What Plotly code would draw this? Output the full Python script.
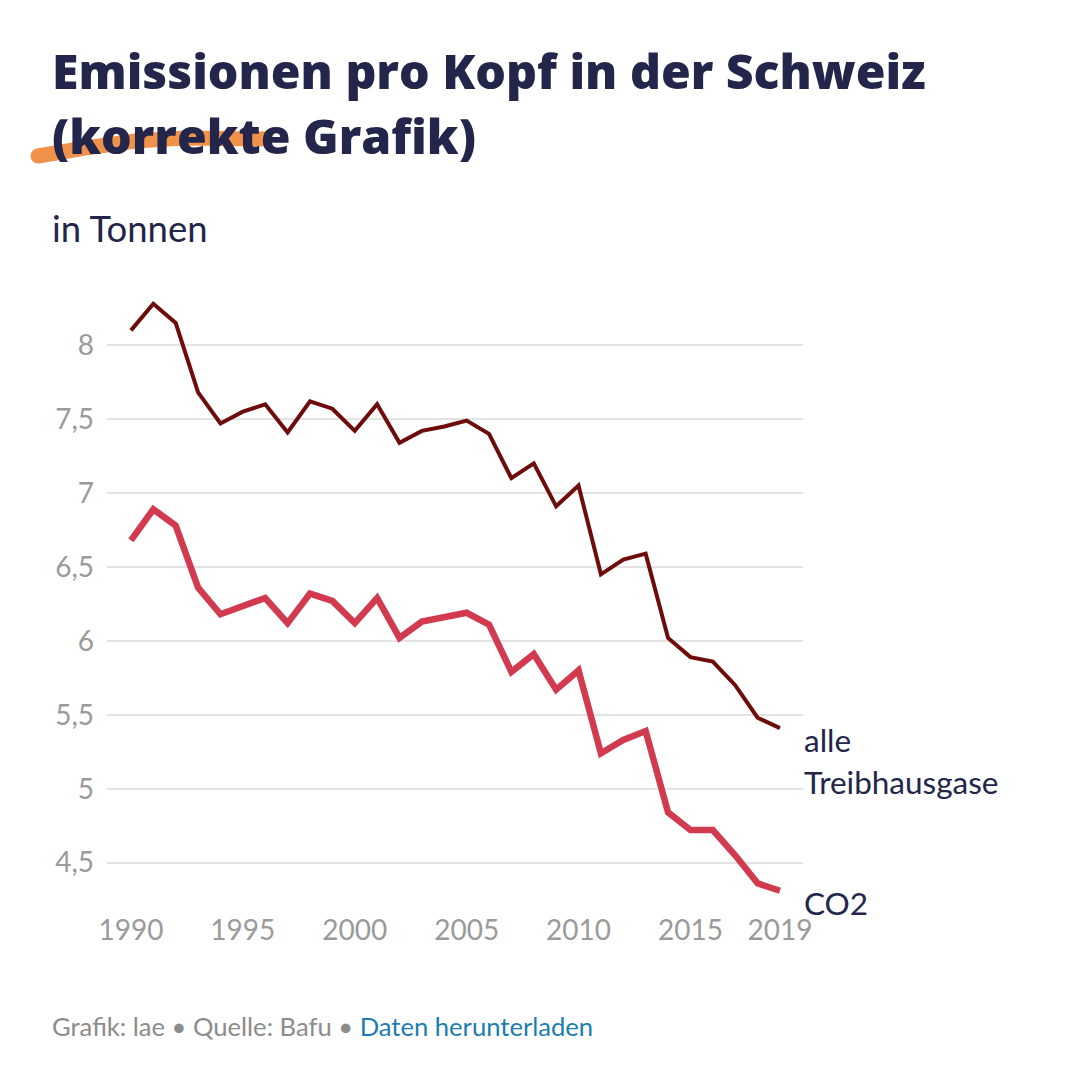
import plotly.graph_objects as go

# ---- data ----
years = list(range(1990, 2020))
ghg = [8.10, 8.28, 8.15, 7.68, 7.47, 7.55, 7.60, 7.41, 7.62, 7.57,
       7.42, 7.60, 7.34, 7.42, 7.45, 7.49, 7.40, 7.10, 7.20, 6.91,
       7.05, 6.45, 6.55, 6.59, 6.02, 5.89, 5.86, 5.70, 5.48, 5.41]
co2 = [6.68, 6.89, 6.78, 6.36, 6.18, 6.23, 6.29, 6.12, 6.32, 6.27,
       6.12, 6.29, 6.02, 6.13, 6.16, 6.19, 6.11, 5.79, 5.91, 5.67,
       5.80, 5.24, 5.33, 5.39, 4.84, 4.72, 4.72, 4.55, 4.36, 4.31]
x_ticks = [1990, 1995, 2000, 2005, 2010, 2015, 2019]
y_ticks = [4.5, 5, 5.5, 6, 6.5, 7, 7.5, 8]

title_1 = "Emissionen pro Kopf in der Schweiz"
title_2 = "(korrekte Grafik)"
subtitle = "in Tonnen"
label_ghg = ["alle", "Treibhausgase"]
label_co2 = "CO2"

# ---- layout geometry ----
W, H = 1080, 1084
ML, MR, MT, MB = 107, 277, 286, 177
PW, PH = W - ML - MR, H - MT - MB

def px(x):
    return (x - ML) / PW

def py(y):
    return (H - MB - y) / PH

NAVY = "#23264a"
GREY = "#9a9a9a"
FONT = "Lato"
TFONT = "Open Sans"

fig = go.Figure()
fig.add_trace(go.Scatter(x=years, y=ghg, mode="lines", name="alle Treibhausgase",
                         line=dict(color="#6e0b0b", width=4), hoverinfo="skip"))
fig.add_trace(go.Scatter(x=years, y=co2, mode="lines", name="CO2",
                         line=dict(color="#d23a4f", width=6.5), hoverinfo="skip"))

ann = []
ann.append(dict(text=title_1, x=px(50), y=py(35), xref="paper", yref="paper",
                xanchor="left", yanchor="top", showarrow=False,
                font=dict(family=TFONT, size=48.2, color=NAVY, weight=800)))
ann.append(dict(text=title_2, x=px(50), y=py(100), xref="paper", yref="paper",
                xanchor="left", yanchor="top", showarrow=False,
                font=dict(family=TFONT, size=48.2, color=NAVY, weight=800)))
ann.append(dict(text=subtitle, x=px(50), y=py(228), xref="paper", yref="paper",
                xanchor="left", yanchor="middle", showarrow=False,
                font=dict(family=FONT, size=36.5, color=NAVY)))
ann.append(dict(text=label_ghg[0], x=years[-1], y=ghg[-1], xref="x", yref="y",
                xanchor="left", yanchor="middle", xshift=22, yshift=-12, showarrow=False,
                font=dict(family=FONT, size=31.5, color=NAVY)))
ann.append(dict(text=label_ghg[1], x=years[-1], y=ghg[-1], xref="x", yref="y",
                xanchor="left", yanchor="middle", xshift=22, yshift=-54, showarrow=False,
                font=dict(family=FONT, size=31.5, color=NAVY)))
ann.append(dict(text=label_co2, x=years[-1], y=co2[-1], xref="x", yref="y",
                xanchor="left", yanchor="middle", xshift=22, yshift=-12, showarrow=False,
                font=dict(family=FONT, size=31.5, color=NAVY)))
ann.append(dict(text='Grafik: lae • Quelle: Bafu • <span style="color:#1b7db2">Daten herunterladen</span>',
                x=px(50), y=py(1026), xref="paper", yref="paper",
                xanchor="left", yanchor="middle", showarrow=False,
                font=dict(family=FONT, size=25.6, color="#8c8c8c")))

# orange strike scribble over "korrekte"
pts = [(38, 156), (85, 148), (135, 141), (185, 138), (265, 139)]
path = "M " + " L ".join(f"{px(a):.5f},{py(b):.5f}" for a, b in pts)
shapes = [dict(type="path", path=path, xref="paper", yref="paper",
               line=dict(color="#f0924a", width=15), layer="above")]
for a, b in (pts[0], pts[-1]):
    r = 7.5
    shapes.append(dict(type="circle", xref="paper", yref="paper",
                       x0=px(a - r), x1=px(a + r), y0=py(b + r), y1=py(b - r),
                       fillcolor="#f0924a", line=dict(width=0), layer="above"))

fig.update_layout(
    width=W, height=H,
    margin=dict(l=ML, r=MR, t=MT, b=MB),
    paper_bgcolor="white", plot_bgcolor="white",
    separators=",.",
    showlegend=False,
    font=dict(family=FONT),
    annotations=ann,
    shapes=shapes,
    xaxis=dict(range=[1988.93, 2020.03], tickvals=x_ticks, showgrid=False,
               zeroline=False, showline=False, ticks="",
               tickfont=dict(family=FONT, size=28, color=GREY), ticklabelstandoff=4),
    yaxis=dict(range=[4.2, 8.4], tickvals=y_ticks, showgrid=True, gridcolor="#e3e3e3",
               gridwidth=2, zeroline=False, showline=False, ticks="",
               tickfont=dict(family=FONT, size=28, color=GREY), ticklabelstandoff=12),
)

fig.write_html("out.html")
